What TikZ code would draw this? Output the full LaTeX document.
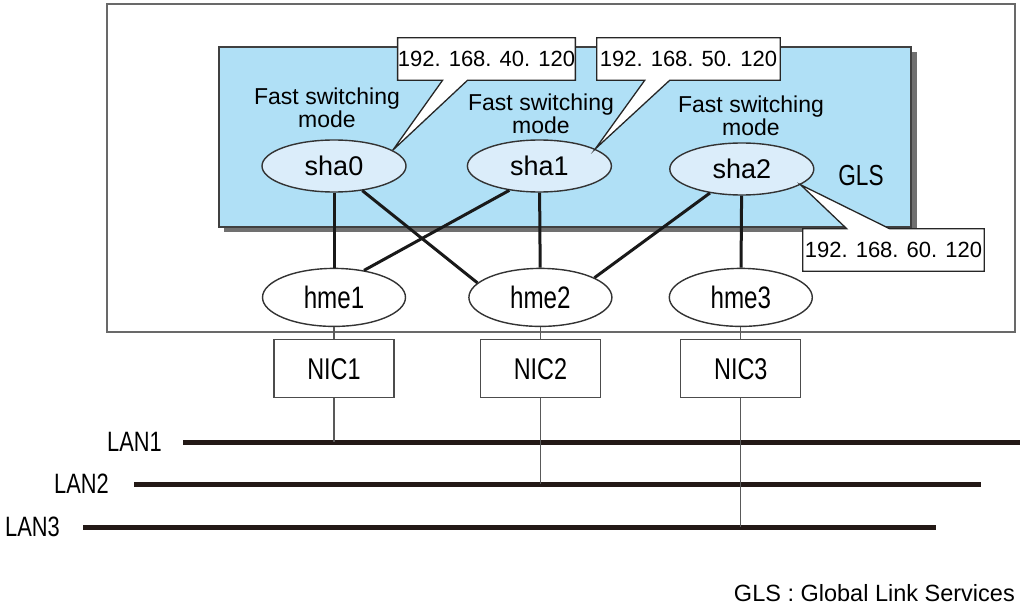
\documentclass[tikz,border=0pt]{standalone}
\usepackage{fontspec}
\setmainfont{Liberation Sans}
\newfontfamily\narrowfont{Liberation Sans}[FakeStretch=0.78]
\usetikzlibrary{positioning, shapes.geometric, calc}

\definecolor{glsblue}{RGB}{176,224,246}
\definecolor{shablue}{RGB}{219,237,250}
\definecolor{shadowgray}{RGB}{112,112,112}
\definecolor{framegray}{RGB}{105,105,105}
\definecolor{lanblack}{RGB}{35,25,22}

\begin{document}
\begin{tikzpicture}[x=1pt, y=-1pt,
    framestyle/.style={draw=framegray, line width=2pt},
    glsstyle/.style={draw=black!75, line width=1.4pt, fill=glsblue},
    modelabel/.style={align=center, inner sep=0pt, font=\fontsize{23}{23}\selectfont},
    shanode/.style={ellipse, draw=black!80, line width=1.4pt, fill=shablue, minimum width=144pt, minimum height=52pt, inner sep=0pt, font=\fontsize{27}{27}\selectfont},
    hmenode/.style={ellipse, draw=black!80, line width=1.4pt, fill=white, minimum width=143pt, minimum height=58pt, inner sep=0pt, font=\narrowfont\fontsize{31}{31}\selectfont},
    nicbox/.style={rectangle, draw=black!70, line width=1.2pt, fill=white, minimum width=120pt, minimum height=58pt, inner sep=0pt, font=\narrowfont\fontsize{30}{30}\selectfont},
    ipbox/.style={rectangle, fill=white, minimum width=177pt, minimum height=42pt, inner sep=0pt, font=\fontsize{22}{22}\selectfont},
    callout/.style={draw=black!85, line width=1.3pt},
    link/.style={draw=black!90, line width=3pt},
    wire/.style={draw=black!65, line width=1.2pt},
    lanline/.style={draw=lanblack, line width=5pt},
    lanlabel/.style={inner sep=0pt, font=\narrowfont\fontsize{28}{28}\selectfont}
]
\useasboundingbox (0,0) rectangle (1020,607);

% outer frame and GLS area
\draw[framestyle] (107,4) rectangle (1015,332);
\fill[shadowgray] (224,52) rectangle (917,232);
\draw[glsstyle] (219,47) rectangle (911,227);

% mode labels
\node[modelabel] (mode0) at (327,108) {Fast switching\\mode};
\node[modelabel] (mode1) at (541,114) {Fast switching\\mode};
\node[modelabel] (mode2) at (751,116) {Fast switching\\mode};

% virtual interfaces
\node[shanode] (sha0) at (334,166) {sha0};
\node[shanode, right=60pt of sha0] (sha1) {sha1};
\node[shanode, right=57pt of sha1, yshift=-3pt] (sha2) {sha2};
\node[inner sep=0pt, font=\narrowfont\fontsize{29}{29}\selectfont] (gls) at (861,176) {GLS};

% physical interfaces
\node[hmenode, below=75pt of sha0] (hme1) {hme1};
\node[hmenode, right=62pt of hme1] (hme2) {hme2};
\node[hmenode, right=56pt of hme2] (hme3) {hme3};

\node[nicbox, below=12pt of hme1] (nic1) {NIC1};
\node[nicbox, below=12pt of hme2] (nic2) {NIC2};
\node[nicbox, below=12pt of hme3] (nic3) {NIC3};

% sha -- hme links
\draw[link] (sha0) -- (hme1);
\draw[link] (sha0.-41) -- (hme2.167);
\draw[link] (sha1.219) -- (hme1.42);
\draw[link] (sha1) -- (hme2);
\draw[link] (sha2.217) -- (hme2.20);
\draw[link] (sha2) -- (hme3);

% LANs
\coordinate (lan1w) at (183,442); \coordinate (lan1e) at (1020,442);
\coordinate (lan2w) at (134,484); \coordinate (lan2e) at (981,484);
\coordinate (lan3w) at (83,527);  \coordinate (lan3e) at (936,527);
\draw[lanline] (lan1w) -- (lan1e);
\draw[lanline] (lan2w) -- (lan2e);
\draw[lanline] (lan3w) -- (lan3e);
\node[lanlabel, left=21pt of lan1w] (lan1) {LAN1};
\node[lanlabel, left=25pt of lan2w] (lan2) {LAN2};
\node[lanlabel, left=23pt of lan3w] (lan3) {LAN3};

% wires
\draw[wire] (hme1) -- (nic1);
\draw[wire] (hme2) -- (nic2);
\draw[wire] (hme3) -- (nic3);
\draw[wire] (nic1) -- (nic1 |- lan1w);
\draw[wire] (nic2) -- (nic2 |- lan2w);
\draw[wire] (nic3) -- (nic3 |- lan3w);

% addresses
\node[ipbox] (ip0) at (486.5,59) {192. 168. 40. 120};
\fill[white] ($(ip0.south west)+(45,0)$) -- (sha0.15) -- ($(ip0.south west)+(70,0)$) -- cycle;
\draw[callout] (ip0.south west) -- ($(ip0.south west)+(45,0)$) -- (sha0.15) -- ($(ip0.south west)+(70,0)$) -- (ip0.south east) -- (ip0.north east) -- (ip0.north west) -- cycle;

\node[ipbox, minimum width=183pt] (ip1) at (688.5,59) {192. 168. 50. 120};
\fill[white] ($(ip1.south west)+(48,0)$) -- (sha1.17) -- ($(ip1.south west)+(73,0)$) -- cycle;
\draw[callout] (ip1.south west) -- ($(ip1.south west)+(48,0)$) -- (sha1.17) -- ($(ip1.south west)+(73,0)$) -- (ip1.south east) -- (ip1.north east) -- (ip1.north west) -- cycle;

\node[ipbox, minimum width=181pt] (ip2) at (893.5,250) {192. 168. 60. 120};
\fill[white] ($(ip2.north west)+(44,0)$) -- (sha2.-15) -- ($(ip2.north west)+(87,0)$) -- cycle;
\draw[callout] (ip2.north west) -- ($(ip2.north west)+(44,0)$) -- (sha2.-15) -- ($(ip2.north west)+(87,0)$) -- (ip2.north east) -- (ip2.south east) -- (ip2.south west) -- cycle;

% legend
\node[anchor=east, inner sep=0pt, font=\fontsize{23.5}{23.5}\selectfont] (legend) at (1015,593) {GLS : Global Link Services};

\end{tikzpicture}
\end{document}
